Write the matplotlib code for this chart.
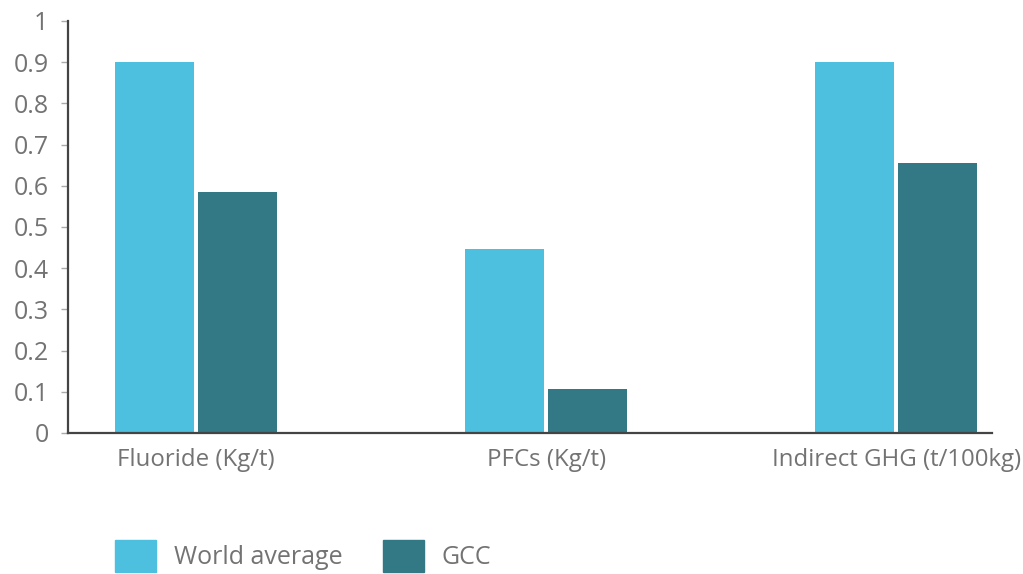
import numpy as np
import matplotlib
matplotlib.use("Agg")
import matplotlib.pyplot as plt
from matplotlib.patches import Patch

plt.rcParams['font.family'] = ['Open Sans', 'DejaVu Sans']

categories = ["Fluoride (Kg/t)", "PFCs (Kg/t)", "Indirect GHG (t/100kg)"]
world_average = [0.90, 0.447, 0.90]
gcc = [0.585, 0.107, 0.655]
y_ticks = [0, 0.1, 0.2, 0.3, 0.4, 0.5, 0.6, 0.7, 0.8, 0.9, 1]
y_tick_labels = ["0", "0.1", "0.2", "0.3", "0.4", "0.5", "0.6", "0.7", "0.8", "0.9", "1"]

world_color = "#4DC0E0"
gcc_color = "#337985"
text_color = "#737373"

fig = plt.figure(figsize=(10.23, 5.74), dpi=100)
ax = fig.add_axes([68/1023, 1-433/574, (992-68)/1023, (433-21)/574])

x = np.arange(len(categories))
w = 0.226
ax.bar(x - 0.119, world_average, width=w, color=world_color, label="World average")
ax.bar(x + 0.119, gcc, width=w, color=gcc_color, label="GCC")

ax.set_xlim(-0.366, 2.274)
ax.set_ylim(0, 1)
ax.set_xticks(x)
ax.set_xticklabels(categories)
ax.set_yticks(y_ticks)
ax.set_yticklabels(y_tick_labels)

for s in ["top", "right"]:
    ax.spines[s].set_visible(False)
for s in ["left", "bottom"]:
    ax.spines[s].set_color("#444444")
    ax.spines[s].set_linewidth(1.6)

ax.tick_params(axis="x", length=0, pad=11, labelsize=17.3, labelcolor=text_color)
ax.tick_params(axis="y", length=5, width=1, color="#aaaaaa", pad=9,
               labelsize=18, labelcolor=text_color)

handles = [Patch(color=world_color), Patch(color=gcc_color)]
fig.legend(handles, ["World average", "GCC"], loc="center left",
           bbox_to_anchor=(115/1023, 1-556/574), ncol=2, frameon=False,
           handlelength=1.64, handleheight=1.64, handletextpad=0.72,
           columnspacing=1.6, borderpad=0, borderaxespad=0,
           prop={"size": 18}, labelcolor=text_color)

fig.savefig("out.png", dpi=100)
